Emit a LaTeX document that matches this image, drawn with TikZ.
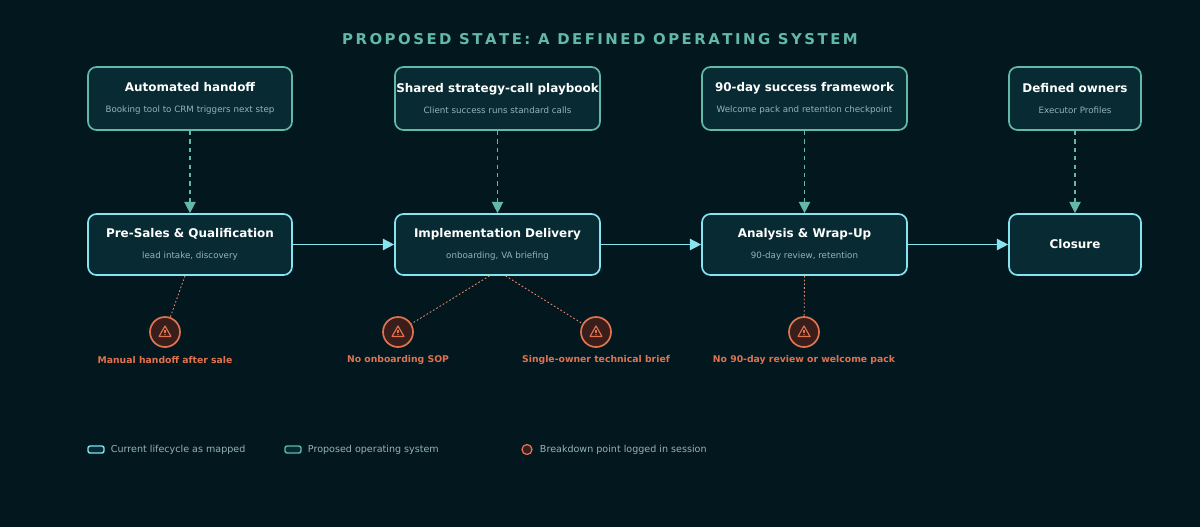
\documentclass[tikz,border=0pt]{standalone}
\usepackage{fontspec}
\setmainfont{DejaVu Sans}
\usetikzlibrary{arrows.meta,positioning,calc}
\definecolor{bgcol}{HTML}{03171F}
\definecolor{boxfill}{HTML}{082A33}
\definecolor{stageline}{HTML}{86E3EF}
\definecolor{propline}{HTML}{62B9A9}
\definecolor{warncol}{HTML}{E0734F}
\definecolor{warnfill}{HTML}{3A1E1C}
\definecolor{subcol}{HTML}{94B3B8}
\tikzset{
  stage/.style={draw=stageline, line width=1.2pt, fill=boxfill, rounded corners=6pt, minimum height=61*0.025cm, align=center, inner sep=0pt},
  prop/.style={draw=propline, line width=1.2pt, fill=boxfill, rounded corners=6pt, minimum height=63*0.025cm, align=center, inner sep=0pt},
  warn/.style={circle, draw=warncol, line width=1.2pt, fill=warnfill, minimum size=30*0.025cm, inner sep=0pt},
  flow/.style={-{Triangle[length=8pt,width=8pt]}, stageline, line width=1.2pt},
  feed/.style={-{Triangle[length=8pt,width=8pt]}, propline, line width=1pt, dash pattern=on 3pt off 3pt},
  link/.style={warncol!80, line width=0.6pt, dash pattern=on 1.2pt off 1.5pt},
  warnlabel/.style={text=warncol, font=\bfseries\fontsize{6.6}{8}\selectfont},
  keytext/.style={right, text=subcol, font=\fontsize{6.8}{8}\selectfont},
}
\newcommand{\boxtxt}[2]{{\color{white}\bfseries\fontsize{8.5}{10}\selectfont #1}\\[2.5pt]{\color{subcol}\fontsize{6.2}{8}\selectfont #2}}
\newcommand{\warnicon}[1]{\draw[warncol, line width=0.8pt, line join=round] ($(#1)+(0,-6)$) -- ($(#1)+(6,4.5)$) -- ($(#1)+(-6,4.5)$) -- cycle;
  \draw[warncol, line width=0.8pt] ($(#1)+(0,-2)$) -- ($(#1)+(0,1)$);
  \fill[warncol] ($(#1)+(0,2.6)$) circle (0.6pt);}
\begin{document}
\begin{tikzpicture}[x=0.025cm,y=-0.025cm]
    % Background
    \fill[bgcol] (0,0) rectangle (1200,527);
    \useasboundingbox (0,0) rectangle (1200,527);

    % Title
    \node (title) at (600,39) {\color{propline}\bfseries\fontsize{10.6}{13}\selectfont P\,R\,O\,P\,O\,S\,E\,D\ \,S\,T\,A\,T\,E\,:\ \,A\ \,D\,E\,F\,I\,N\,E\,D\ \,O\,P\,E\,R\,A\,T\,I\,N\,G\ \,S\,Y\,S\,T\,E\,M};

    % Proposed layer
    \node[prop, minimum width=204*0.025cm] (p1) at (190,98.5) {\boxtxt{Automated handoff}{Booking tool to CRM triggers next step}};
    \node[prop, minimum width=205*0.025cm] (p2) at (497.5,98.5) {\boxtxt{Shared strategy-call playbook}{Client success runs standard calls}};
    \node[prop, minimum width=205*0.025cm] (p3) at (804.5,98.5) {\boxtxt{90-day success framework}{Welcome pack and retention checkpoint}};
    \node[prop, minimum width=132*0.025cm] (p4) at (1075,98.5) {\boxtxt{Defined owners}{Executor Profiles}};

    % Current lifecycle
    \node[stage, minimum width=204*0.025cm] (s1) at (190,244.5) {\boxtxt{Pre-Sales \& Qualification}{lead intake, discovery}};
    \node[stage, minimum width=205*0.025cm] (s2) at (497.5,244.5) {\boxtxt{Implementation Delivery}{onboarding, VA briefing}};
    \node[stage, minimum width=205*0.025cm] (s3) at (804.5,244.5) {\boxtxt{Analysis \& Wrap-Up}{90-day review, retention}};
    \node[stage, minimum width=132*0.025cm] (s4) at (1075,244.5) {{\color{white}\bfseries\fontsize{8.5}{10}\selectfont Closure}};

    \draw[flow] (s1) -- (s2);
    \draw[flow] (s2) -- (s3);
    \draw[flow] (s3) -- (s4);
    \foreach \i in {1,...,4}
        \draw[feed] (p\i) -- (s\i);

    % Breakdown points
    \node[warn] (w1) at (165,332) {};
    \node[warn] (w2) at (398,332) {};
    \node[warn] (w3) at (596,332) {};
    \node[warn] (w4) at (804,332) {};
    \foreach \w in {w1,w2,w3,w4} {\warnicon{\w}}
    \draw[link] ($(s1.south)+(-5,0)$) -- (w1);
    \draw[link] ($(s2.south)+(-8,0)$) -- (w2);
    \draw[link] ($(s2.south)+(8,0)$) -- (w3);
    \draw[link] (s3.south) -- (w4);
    \node[warnlabel] (l1) at (165,360) {Manual handoff after sale};
    \node[warnlabel] (l2) at (398,360) {No onboarding SOP};
    \node[warnlabel] (l3) at (596,360) {Single-owner technical brief};
    \node[warnlabel] (l4) at (804,360) {No 90-day review or welcome pack};

    % Legend
    \draw[stageline, line width=1pt, fill=boxfill, rounded corners=1.5pt] (88,446) rectangle (104,453);
    \node[keytext] (k1) at (106,449.5) {Current lifecycle as mapped};
    \draw[propline, line width=1pt, fill=boxfill, rounded corners=1.5pt] (285,446) rectangle (301,453);
    \node[keytext] (k2) at (303,449.5) {Proposed operating system};
    \draw[warncol, line width=0.9pt, fill=warnfill] (527,449.5) circle (5);
    \node[keytext] (k3) at (535,449.5) {Breakdown point logged in session};
\end{tikzpicture}
\end{document}
